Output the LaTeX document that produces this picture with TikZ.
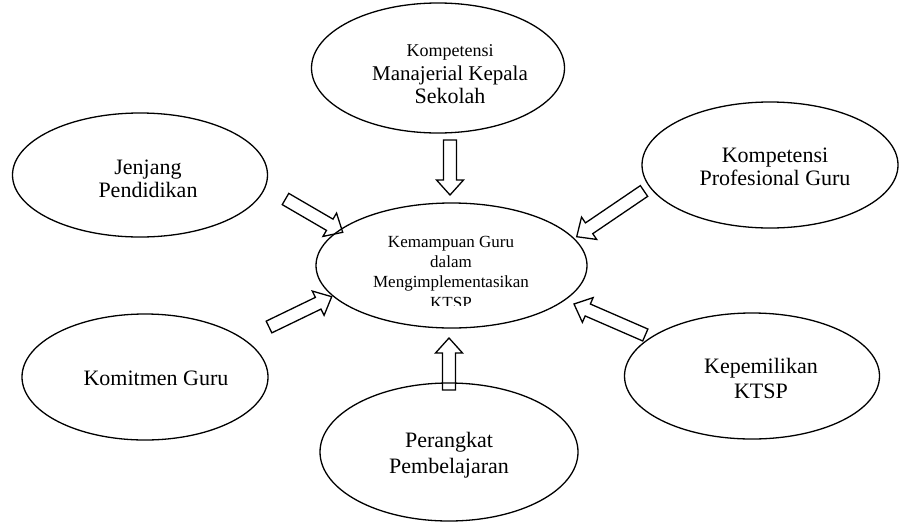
\documentclass[tikz,border=0pt]{standalone}
\usepackage{fontspec}
\setmainfont{Liberation Serif}
\usetikzlibrary{shapes.geometric,calc}
\tikzset{
  oval/.style={ellipse, draw, line width=1.3pt, inner sep=0pt},
  lbl/.style={inner sep=0pt, anchor=base, font=\fontsize{22}{26}\selectfont},
  clbl/.style={inner sep=0pt, anchor=base, font=\fontsize{17}{20}\selectfont},
  blk/.style={draw, line width=1.3pt, line join=miter},
}
\newcommand\blockarrow[3]{%
  \coordinate (#3base) at ($(#2)!15pt!(#1)$);
  \draw[blk] ($(#1)!6.5pt!90:(#2)$) -- ($(#3base)!6.5pt!90:(#2)$) -- ($(#3base)!13.5pt!90:(#2)$) -- (#2)
    -- ($(#3base)!13.5pt!-90:(#2)$) -- ($(#3base)!6.5pt!-90:(#2)$) -- ($(#1)!6.5pt!-90:(#2)$) -- cycle;}
\begin{document}
\begin{tikzpicture}[x=1pt,y=-1pt]
\useasboundingbox (0,0) rectangle (901,525);
% ellipses
\node[oval, minimum width=253pt, minimum height=130pt] (top) at (438,68) {};
\node[oval, minimum width=255pt, minimum height=124pt] (jen) at (140,175) {};
\node[oval, minimum width=256pt, minimum height=126pt] (prof) at (770,165) {};
\node[oval, minimum width=271pt, minimum height=125pt] (ctr) at (451.5,265.5) {};
\node[oval, minimum width=246pt, minimum height=126pt] (kom) at (145,377) {};
\node[oval, minimum width=255pt, minimum height=126pt] (kep) at (752,376) {};
\node[oval, minimum width=258pt, minimum height=138pt] (per) at (449,452) {};
% labels
\node[lbl, font=\fontsize{18}{22}\selectfont] (t1a) at (450,56) {Kompetensi};
\node[lbl, font=\fontsize{21}{24}\selectfont] (t1b) at (450,80) {Manajerial Kepala};
\node[lbl] (t1c) at (450,103) {Sekolah};
\node[lbl] (t2a) at (148,174) {Jenjang};
\node[lbl] (t2b) at (148,197) {Pendidikan};
\node[lbl] (t3a) at (775,162) {Kompetensi};
\node[lbl] (t3b) at (775,185) {Profesional Guru};
\node[lbl] (t4a) at (156,385) {Komitmen Guru};
\node[lbl] (t5a) at (761,373) {Kepemilikan};
\node[lbl] (t5b) at (761,398) {KTSP};
\node[lbl] (t6a) at (449,447) {Perangkat};
\node[lbl] (t6b) at (449,473) {Pembelajaran};
\node[clbl] (c1) at (451,247) {Kemampuan Guru};
\node[clbl] (c2) at (451,267) {dalam};
\node[clbl] (c3) at (451,287) {Mengimplementasikan};
\begin{scope}
  \clip (300,200) rectangle (600,305);
  \node[clbl] (c4) at (451,308) {KTSP};
\end{scope}
% arrows
\coordinate (aTt) at (450,140); \coordinate (aTp) at (450,195);
\coordinate (aBt) at (449,390); \coordinate (aBp) at (449,338);
\coordinate (aLTt) at (285.5,199); \coordinate (aLTp) at (342.7,232.3);
\coordinate (aLBt) at (269,327); \coordinate (aLBp) at (331.7,296.7);
\coordinate (aRTt) at (644,191); \coordinate (aRTp) at (576.7,236.7);
\coordinate (aRBt) at (645.3,335); \coordinate (aRBp) at (574,304);
\blockarrow{aTt}{aTp}{aT}
\blockarrow{aBt}{aBp}{aB}
\blockarrow{aLTt}{aLTp}{aLT}
\blockarrow{aLBt}{aLBp}{aLB}
\blockarrow{aRTt}{aRTp}{aRT}
\blockarrow{aRBt}{aRBp}{aRB}
\end{tikzpicture}
\end{document}
